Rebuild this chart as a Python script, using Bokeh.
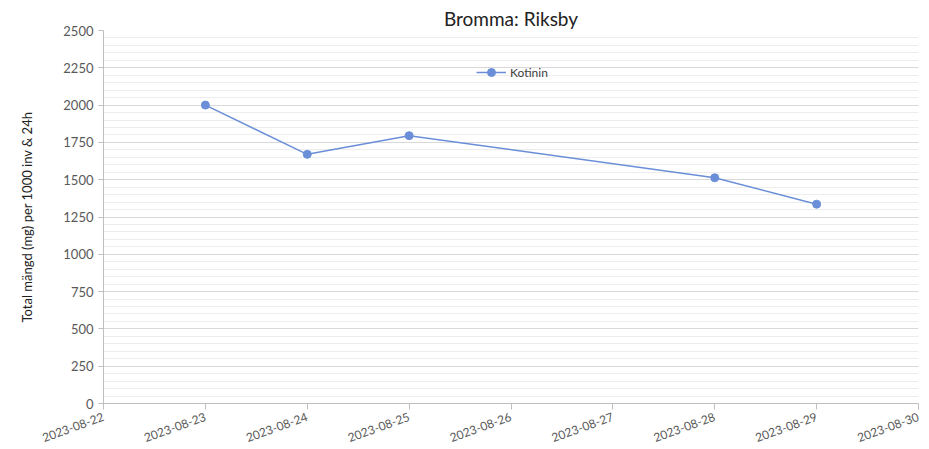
import math
import pandas as pd
from bokeh.plotting import figure
from bokeh.models import (ColumnDataSource, FixedTicker, SingleIntervalTicker,
                          DatetimeTickFormatter, Range1d, Legend, LegendItem)
from bokeh.embed import file_html
from bokeh.resources import INLINE

# ---- data ----
dates = ["2023-08-23", "2023-08-24", "2023-08-25", "2023-08-28", "2023-08-29"]
kotinin = [2000, 1670, 1795, 1513, 1336]
x_tick_dates = ["2023-08-22", "2023-08-23", "2023-08-24", "2023-08-25", "2023-08-26",
                "2023-08-27", "2023-08-28", "2023-08-29", "2023-08-30"]
series_name = "Kotinin"
title_text = "Bromma: Riksby"
y_label = "Total mängd (mg) per 1000 inv & 24h"

FONT = "Lato"
LINE_COLOR = "#6a8fd8"

xd = pd.to_datetime(dates)
xt = pd.to_datetime(x_tick_dates)
src = ColumnDataSource(dict(x=xd, y=kotinin))

p = figure(width=929, height=449, x_axis_type="datetime",
           output_backend="svg", toolbar_location=None,
           x_range=Range1d(xt[0], xt[-1]), y_range=Range1d(0, 2500),
           min_border_left=103, min_border_right=11, min_border_top=30,
           min_border_bottom=46)

p.title.text = title_text
p.title.align = "center"
p.title.text_font = FONT
p.title.text_font_size = "19px"
p.title.text_font_style = "normal"
p.title.text_color = "#222222"
p.title.standoff = 2

p.outline_line_color = None
p.background_fill_color = "white"

# axes
p.xaxis.ticker = FixedTicker(ticks=[t.value / 1e6 for t in xt])
p.xaxis.formatter = DatetimeTickFormatter(days="%Y-%m-%d", months="%Y-%m-%d")
p.xaxis.major_label_orientation = math.radians(20)
p.xaxis.major_label_text_font = FONT
p.xaxis.major_label_text_font_size = "12px"
p.xaxis.major_label_text_color = "#595959"
p.xaxis.axis_line_color = "#bfbfbf"
p.xaxis.major_tick_line_color = "#bfbfbf"
p.xaxis.major_tick_out = 6
p.xaxis.major_tick_in = 0
p.xaxis.minor_tick_line_color = None
p.xaxis.major_label_standoff = 7

p.yaxis.ticker = SingleIntervalTicker(interval=250, num_minor_ticks=5)
p.yaxis.major_label_text_font = FONT
p.yaxis.major_label_text_font_size = "13px"
p.yaxis.major_label_text_color = "#595959"
p.yaxis.axis_line_color = "#bfbfbf"
p.yaxis.major_tick_line_color = "#bfbfbf"
p.yaxis.major_tick_out = 5
p.yaxis.major_tick_in = 0
p.yaxis.minor_tick_line_color = None
p.yaxis.major_label_standoff = 5
p.yaxis.axis_label = y_label
p.yaxis.axis_label_text_font = FONT
p.yaxis.axis_label_text_font_size = "13px"
p.yaxis.axis_label_text_font_style = "normal"
p.yaxis.axis_label_text_color = "#222222"
p.yaxis.axis_label_standoff = 25

p.xgrid.grid_line_color = None
p.ygrid.grid_line_color = "#d9d9d9"
p.ygrid.minor_grid_line_color = "#ededed"

r_line = p.line("x", "y", source=src, line_color=LINE_COLOR, line_width=1.5)
r_pts = p.scatter("x", "y", source=src, size=8, fill_color=LINE_COLOR,
                  line_color=LINE_COLOR)

legend = Legend(items=[LegendItem(label=series_name, renderers=[r_line, r_pts])],
                location=(373, 321), border_line_color=None,
                background_fill_alpha=0, label_text_font=FONT,
                label_text_font_size="12px", label_text_color="#404040",
                glyph_width=30, label_standoff=4, padding=2, margin=0)
p.add_layout(legend, "center")

open("out.html", "w").write(file_html(p, INLINE))
